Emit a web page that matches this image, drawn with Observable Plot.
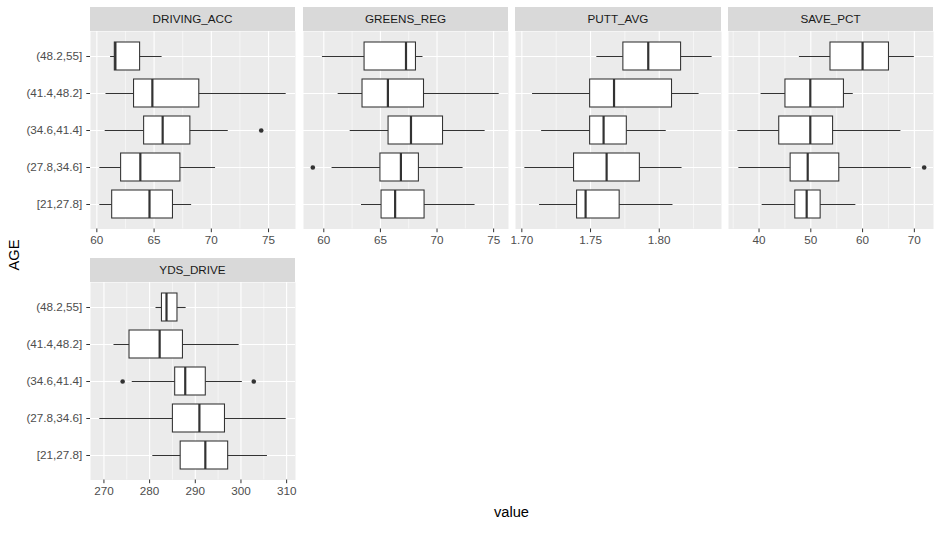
<!DOCTYPE html>
<html>
<head>
<meta charset="utf-8">
<script src="https://cdn.jsdelivr.net/npm/d3@7"></script>
<script src="https://cdn.jsdelivr.net/npm/@observablehq/plot@0.6"></script>
<style>
  html, body { margin: 0; padding: 0; background: #fff; }
  #chart { position: relative; width: 941px; height: 547px; background: #fff; font-family: "Liberation Sans", Arial, sans-serif; overflow: hidden; }
  .strip { position: absolute; background: #D9D9D9; color: #1A1A1A; font-size: 11.7px; text-align: center; }
  .title { position: absolute; color: #000; font-size: 14.67px; white-space: nowrap; }
  .panel { position: absolute; }
  .panel svg { display: block; }
</style>
</head>
<body>
<div id="chart"></div>
<script>
// Age groups (bottom to top as in the chart)
const ages = ["[21,27.8]", "(27.8,34.6]", "(34.6,41.4]", "(41.4,48.2]", "(48.2,55]"];
const facetNames = ["DRIVING_ACC", "GREENS_REG", "PUTT_AVG", "SAVE_PCT", "YDS_DRIVE"];

// Box summaries per age group: [lower whisker, Q1, median, Q3, upper whisker]
const drivingAcc = [
  [60.26, 61.34, 64.6, 66.65, 68.28],
  [60.26, 62.12, 63.8, 67.3, 70.37],
  [60.73, 64.13, 65.75, 68.17, 71.48],
  [60.8, 63.25, 64.85, 68.95, 76.54],
  [61.2, 61.57, 61.62, 63.78, 65.7]
];
const greensReg = [
  [63.33, 65.1, 66.3, 68.9, 73.36],
  [60.73, 65.0, 66.81, 68.4, 72.3],
  [62.33, 65.72, 67.7, 70.53, 74.25],
  [61.27, 63.42, 65.66, 68.85, 75.49],
  [59.88, 63.6, 67.26, 68.14, 68.76]
];
const puttAvg = [
  [1.7129, 1.7402, 1.7464, 1.7712, 1.8100],
  [1.7022, 1.7380, 1.7617, 1.7859, 1.8166],
  [1.7144, 1.7497, 1.7595, 1.7764, 1.8051],
  [1.7078, 1.7497, 1.7671, 1.8093, 1.8290],
  [1.7546, 1.7739, 1.7920, 1.8159, 1.8385]
];
const savePct = [
  [40.6, 47.0, 49.2, 51.9, 58.7],
  [36.1, 46.1, 49.4, 55.5, 69.4],
  [35.9, 43.9, 49.9, 54.3, 67.4],
  [40.4, 45.1, 49.9, 56.4, 58.2],
  [47.8, 53.8, 60.0, 65.1, 70.0]
];
const ydsDrive = [
  [280.7, 286.8, 292.2, 297.2, 305.8],
  [269.1, 285.1, 290.9, 296.5, 309.9],
  [276.2, 285.6, 287.8, 292.3, 300.3],
  [272.2, 275.6, 282.2, 287.3, 299.6],
  [281.4, 282.7, 283.7, 286.1, 288.0]
];

// Outliers: [age group index, value]
const drivingAccOut = [[2, 74.36]];
const greensRegOut = [[1, 59.03]];
const puttAvgOut = [];
const savePctOut = [[1, 71.9]];
const ydsDriveOut = [[2, 274.1], [2, 302.8]];

// Tick values and labels
const drivingTicks = [60, 65, 70, 75];
const drivingLabels = ["60", "65", "70", "75"];
const greensTicks = [60, 65, 70, 75];
const greensLabels = ["60", "65", "70", "75"];
const puttTicks = [1.70, 1.75, 1.80];
const puttLabels = ["1.70", "1.75", "1.80"];
const saveTicks = [40, 50, 60, 70];
const saveLabels = ["40", "50", "60", "70"];
const ydsTicks = [270, 280, 290, 300, 310];
const ydsLabels = ["270", "280", "290", "300", "310"];

const facets = [
  {name: facetNames[0], stats: drivingAcc, out: drivingAccOut, ticks: drivingTicks, labels: drivingLabels},
  {name: facetNames[1], stats: greensReg, out: greensRegOut, ticks: greensTicks, labels: greensLabels},
  {name: facetNames[2], stats: puttAvg, out: puttAvgOut, ticks: puttTicks, labels: puttLabels},
  {name: facetNames[3], stats: savePct, out: savePctOut, ticks: saveTicks, labels: saveLabels},
  {name: facetNames[4], stats: ydsDrive, out: ydsDriveOut, ticks: ydsTicks, labels: ydsLabels}
];

// Layout
const colLeft = [90, 303, 515, 728];
const colWidth = [205, 205, 206, 205];
const rowStripTop = [7, 257.5];
const rowPanelTop = [31, 282];
const stripH = 24;
const panelH = 197.5;
const marginBottom = 26;
const yLabelMargin = 90;

const chart = document.getElementById("chart");
const yDomain = ages.slice().reverse();

facets.forEach((f, k) => {
  const col = k % 4, row = Math.floor(k / 4);
  const rows = f.stats.map((s, i) => ({age: ages[i], lo: s[0], q1: s[1], med: s[2], q3: s[3], hi: s[4]}));
  const outs = f.out.map(([i, v]) => ({age: ages[i], v}));
  const allVals = rows.flatMap(r => [r.lo, r.hi]).concat(outs.map(o => o.v));
  const mn = d3.min(allVals), mx = d3.max(allVals);
  const pad = (mx - mn) * 0.05;
  const domain = [mn - pad, mx + pad];
  const step = f.ticks[1] - f.ticks[0];
  const minor = [f.ticks[0] - step / 2, ...f.ticks.map(t => t + step / 2)].filter(v => v > domain[0] && v < domain[1]);
  const labelMap = new Map(f.ticks.map((t, i) => [t, f.labels[i]]));
  const ml = col === 0 ? yLabelMargin : 0;

  const marks = [
    Plot.frame({fill: "#EBEBEB", stroke: "none"}),
    Plot.gridX(minor, {stroke: "white", strokeOpacity: 1, strokeWidth: 0.55}),
    Plot.gridX(f.ticks, {stroke: "white", strokeOpacity: 1, strokeWidth: 1.1}),
    Plot.gridY(yDomain, {stroke: "white", strokeOpacity: 1, strokeWidth: 1.1}),
    Plot.ruleY(rows, {y: "age", x1: "lo", x2: "hi", stroke: "#333333", strokeWidth: 1.07}),
    Plot.barX(rows, {y: "age", x1: "q1", x2: "q3", fill: "white", stroke: "#333333", strokeWidth: 1.07, insetTop: 0, insetBottom: 0}),
    Plot.tickX(rows, {y: "age", x: "med", stroke: "#333333", strokeWidth: 2.2}),
    Plot.dot(outs, {y: "age", x: "v", r: 2.3, fill: "#333333", stroke: "none"}),
    Plot.axisX(f.ticks, {tickSize: 3.7, tickPadding: 3, tickFormat: d => labelMap.get(d), fill: "#4D4D4D", stroke: "#333333", fontSize: 11.7, label: null})
  ];
  if (col === 0) {
    marks.push(Plot.axisY(yDomain, {tickSize: 3.7, tickPadding: 4.5, fill: "#4D4D4D", stroke: "#333333", fontSize: 11.7, label: null}));
  }

  const svg = Plot.plot({
    width: ml + colWidth[col],
    height: panelH + marginBottom,
    marginLeft: ml,
    marginRight: 0,
    marginTop: 0,
    marginBottom: marginBottom,
    style: {fontFamily: '"Liberation Sans", Arial, sans-serif', fontSize: "11.7px", background: "transparent", overflow: "visible"},
    x: {domain, axis: null, label: null},
    y: {type: "band", domain: yDomain, paddingInner: 0.25, paddingOuter: 0.225, align: 0.5, label: null, axis: col === 0 ? undefined : null},
    marks
  });
  const wrap = document.createElement("div");
  wrap.className = "panel";
  wrap.style.left = (colLeft[col] - ml) + "px";
  wrap.style.top = rowPanelTop[row] + "px";
  wrap.appendChild(svg);
  chart.appendChild(wrap);

  const strip = document.createElement("div");
  strip.className = "strip";
  strip.style.left = colLeft[col] + "px";
  strip.style.top = rowStripTop[row] + "px";
  strip.style.width = colWidth[col] + "px";
  strip.style.height = stripH + "px";
  strip.style.lineHeight = stripH + "px";
  strip.textContent = f.name;
  chart.appendChild(strip);
});

// Axis titles
const xt = document.createElement("div");
xt.className = "title";
xt.textContent = "value";
xt.style.left = "511.5px";
xt.style.top = "512px";
xt.style.transform = "translate(-50%, -50%)";
chart.appendChild(xt);

const yt = document.createElement("div");
yt.className = "title";
yt.textContent = "AGE";
yt.style.left = "14px";
yt.style.top = "255px";
yt.style.transform = "translate(-50%, -50%) rotate(-90deg)";
chart.appendChild(yt);
</script>
</body>
</html>
